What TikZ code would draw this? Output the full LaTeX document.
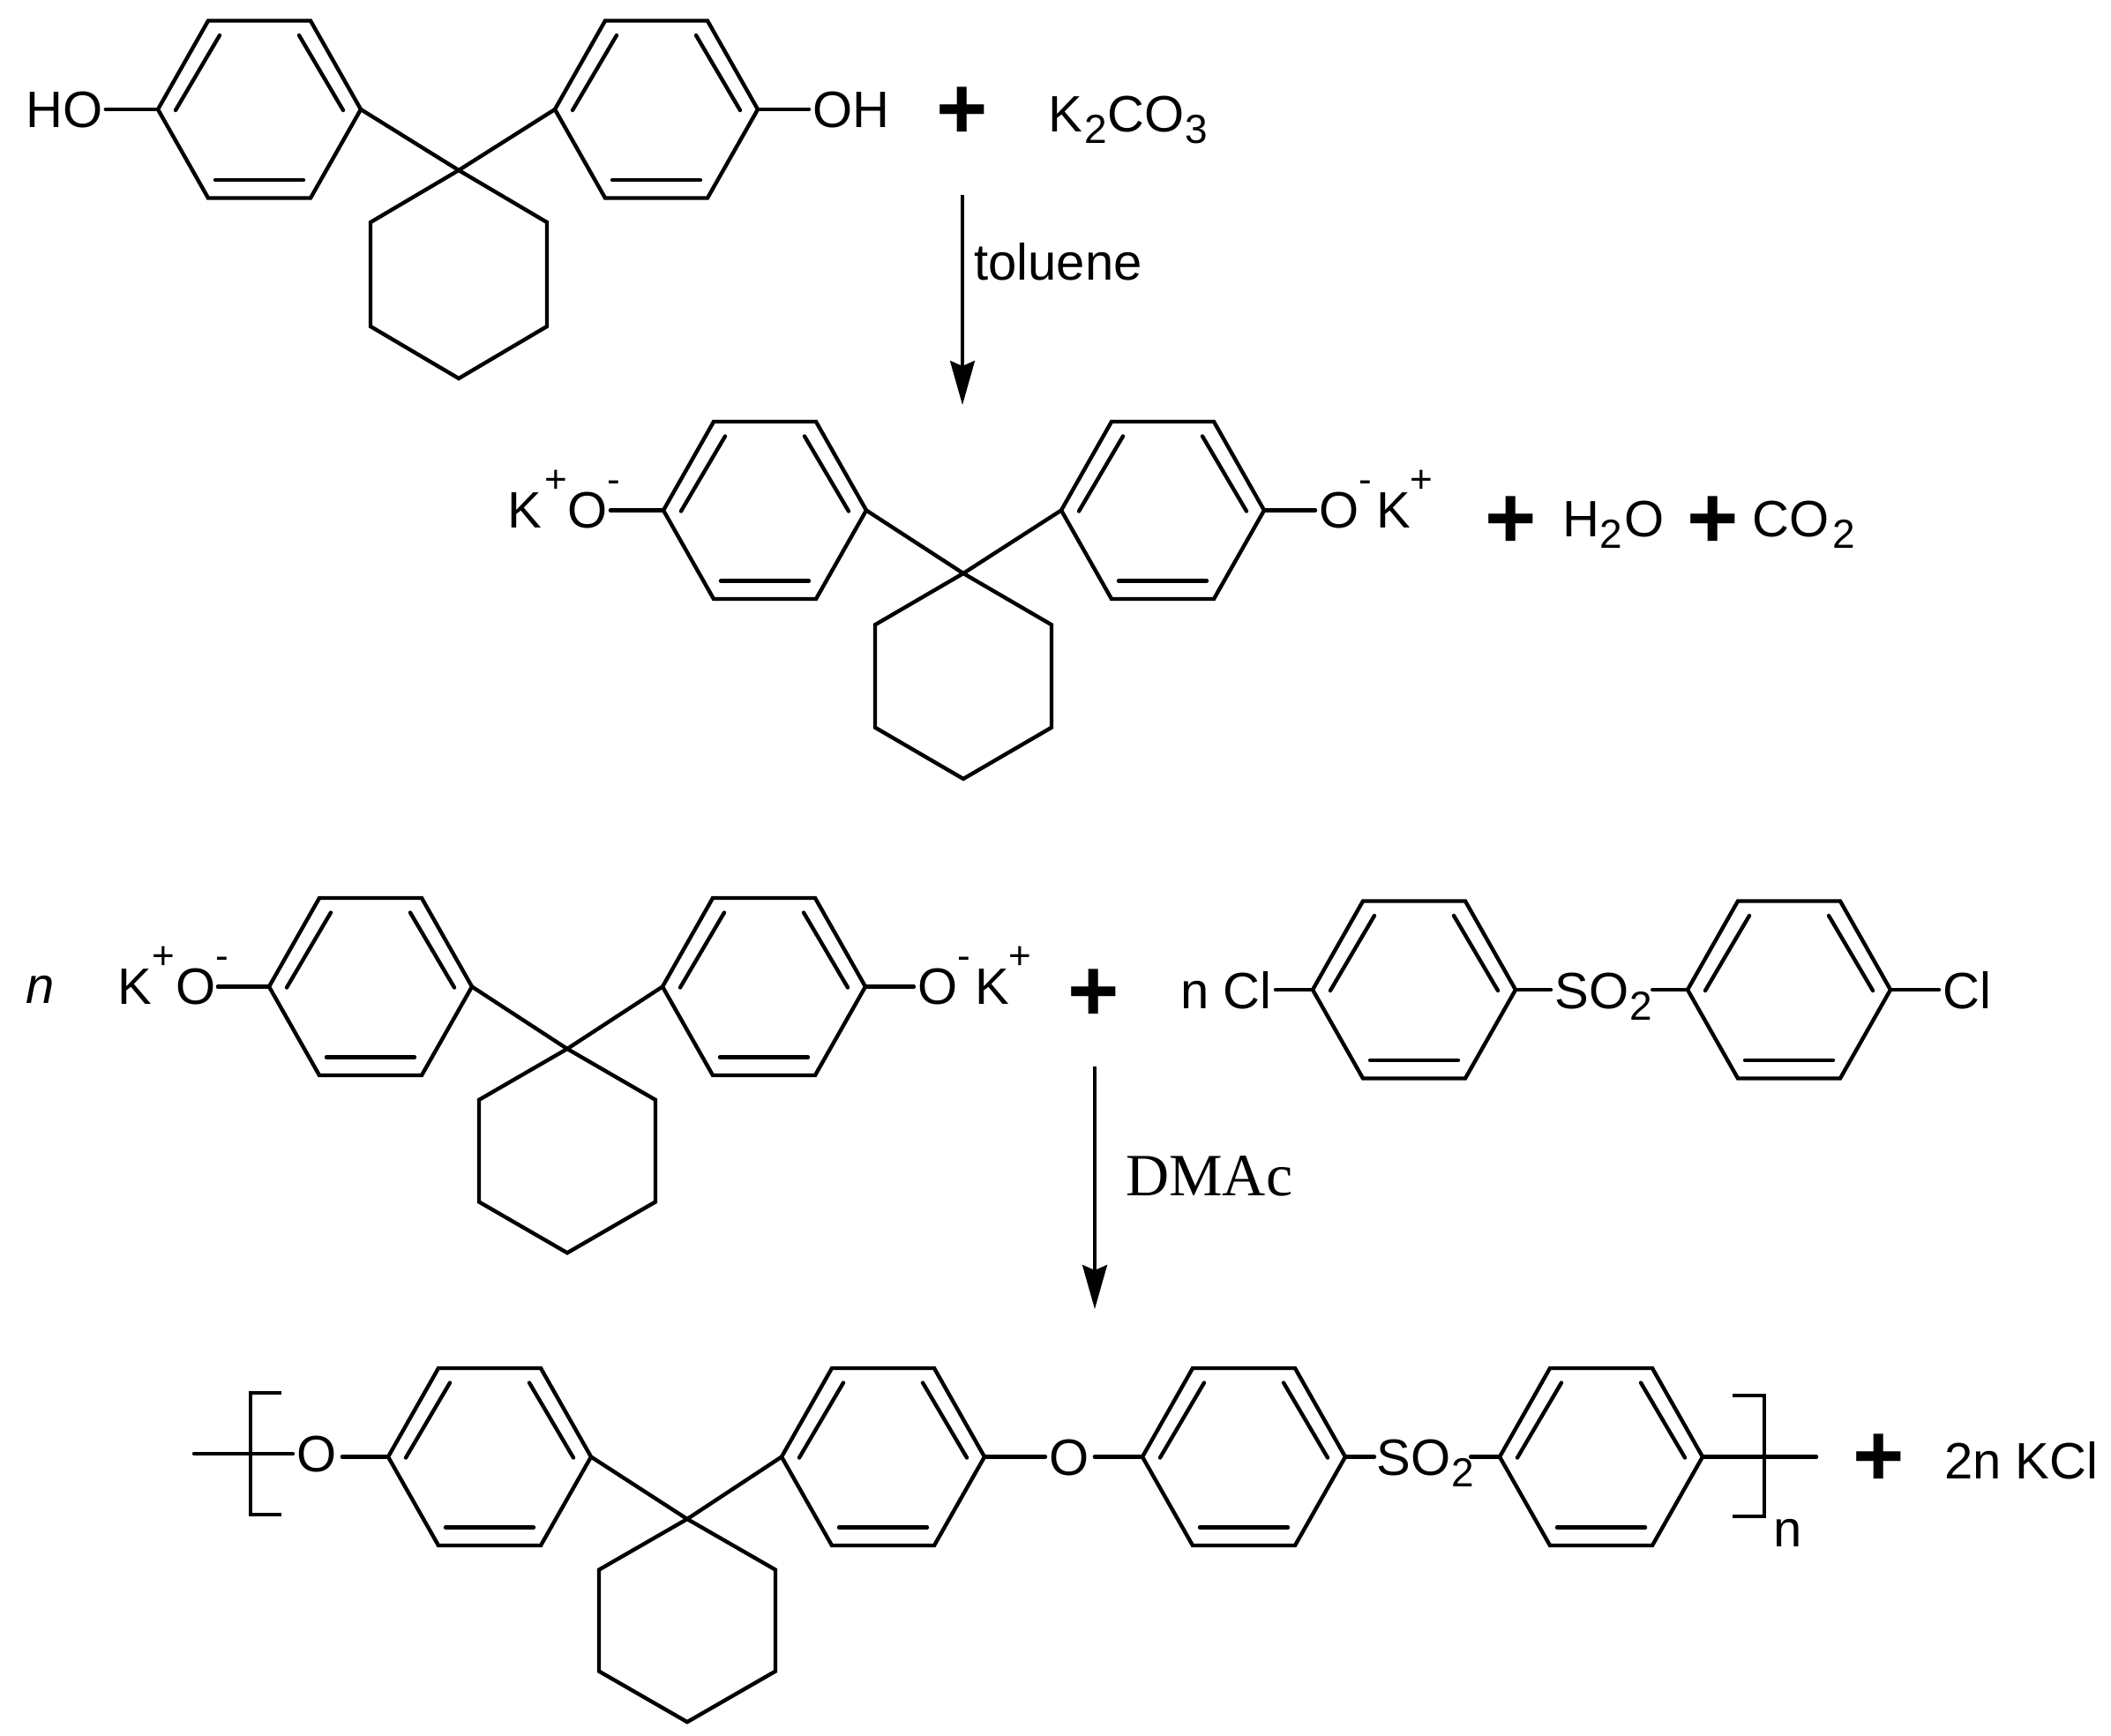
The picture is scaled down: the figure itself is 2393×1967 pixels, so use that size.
\documentclass[tikz,border=0pt]{standalone}
\usepackage{fontspec}
\setmainfont{Liberation Sans}
\newfontfamily\serifface{Liberation Serif}
\usetikzlibrary{arrows.meta}
\newcommand\subdigit[1]{\raisebox{-6.5pt}{\fontsize{23}{23}\selectfont #1}}
\newcommand\supmark[1]{\raisebox{20pt}{\fontsize{22}{22}\selectfont #1}}
\tikzset{
  bond/.style={line width=2.2pt,line join=miter,line cap=round},
  outerring/.style={line width=2.2pt,line join=miter},
  innerbond/.style={line width=2.2pt,line cap=round},
  thinline/.style={line width=1.7pt,line join=miter},
  reaction/.style={line width=1.6pt,-{Stealth[length=25pt,width=14pt,inset=3pt]}},
  chem/.style={inner sep=0pt,anchor=base west,font=\fontsize{29}{31}\selectfont},
  plussign/.style={inner sep=0pt,anchor=center,font=\fontsize{50}{50}\selectfont\bfseries},
}
% benzene ring: #1 name, #2 centre x, #3 centre y
\newcommand\benzene[3]{%
  \begin{scope}[shift={(#2,#3)}]
    \coordinate (#1-l) at (-115,0);
    \coordinate (#1-tl) at (-58,-100.5);
    \coordinate (#1-tr) at (58,-100.5);
    \coordinate (#1-r) at (115,0);
    \coordinate (#1-br) at (58,100.5);
    \coordinate (#1-bl) at (-58,100.5);
    \draw[outerring] (#1-l)--(#1-tl)--(#1-tr)--(#1-r)--(#1-br)--(#1-bl)--cycle;
    \draw[innerbond] (-45,-84)--(-95,1);
    \draw[innerbond] (45,-84)--(95,1);
    \draw[innerbond] (-50,80)--(50,80);
  \end{scope}}
% cyclohexane hung from quaternary carbon: #1 name, #2 x, #3 y, #4 vertical scale
\newcommand\cyclohexane[4]{%
  \begin{scope}[shift={(#2,#3)},yscale=#4]
    \coordinate (#1) at (0,0);
    \coordinate (#1-a) at (100,59);
    \coordinate (#1-b) at (100,177);
    \coordinate (#1-c) at (0,236);
    \coordinate (#1-d) at (-100,177);
    \coordinate (#1-e) at (-100,59);
    \draw[outerring] (#1)--(#1-a)--(#1-b)--(#1-c)--(#1-d)--(#1-e)--cycle;
  \end{scope}}
\begin{document}
\begin{tikzpicture}[x=0.5pt,y=-0.5pt]
\useasboundingbox (0,0) rectangle (2393,1967);

% ---------- row 1 ----------
\benzene{ra}{294}{124}
\benzene{rb}{744}{124}
\cyclohexane{ca}{520}{193}{1}
\draw[bond] (ca)--(ra-r);
\draw[bond] (ca)--(rb-l);
\node[chem] (ho) at (29,144) {HO};
\node[chem] (oh) at (921,144) {OH};
\draw[bond,shorten >=1.5pt] (ra-l)--(ra-l -| ho.east);
\draw[bond,shorten >=2pt] (rb-r)--(rb-r -| oh.west);
\node[plussign] (pa) at (1091,128) {+};
\node[chem] (kco) at (1188,149) {K\hspace{1pt}\subdigit{2}\hspace{0.5pt}CO\hspace{0.5pt}\subdigit{3}};
\coordinate (arA) at (1091,221);
\coordinate (arB) at (1091,459);
\draw[reaction] (arA)--(arB);
\node[chem] (tol) at (1104,317) {toluene};

% ---------- row 2 ----------
\benzene{rc}{867}{578.5}
\benzene{rd}{1318}{578.5}
\cyclohexane{cb}{1092}{650}{0.987}
\draw[bond] (cb)--(rc-r);
\draw[bond] (cb)--(rd-l);
\node[chem] (koa) at (575,598) {K\hspace{1.5pt}\supmark{+}\hspace{0.5pt}O\supmark{-}};
\node[chem] (oka) at (1495,598) {O\supmark{-}\hspace{2.5pt}K\supmark{+}};
\draw[bond,shorten >=-6pt] (rc-l)--(rc-l -| koa.east);
\draw[bond,shorten >=2pt] (rd-r)--(rd-r -| oka.west);
\node[plussign] (pb) at (1713,592) {+};
\node[chem] (water) at (1771,608) {H\subdigit{2}\hspace{1.5pt}O};
\node[plussign] (pc) at (1942,592) {+};
\node[chem] (co) at (1986,608) {CO\hspace{2pt}\subdigit{2}};

% ---------- row 3 ----------
\node[chem,font=\fontsize{29}{31}\selectfont\itshape] (nn) at (29,1137) {n};
\benzene{re}{420}{1118.5}
\benzene{rf}{866}{1118.5}
\cyclohexane{cc}{643}{1189}{0.98}
\draw[bond] (cc)--(re-r);
\draw[bond] (cc)--(rf-l);
\node[chem] (kob) at (133,1138) {K\supmark{+}\hspace{1pt}O\supmark{-}};
\node[chem] (okb) at (1040,1138) {O\supmark{-}\hspace{2.5pt}K\supmark{+}};
\draw[bond,shorten >=-6.5pt] (re-l)--(re-l -| kob.east);
\draw[bond,shorten >=2pt] (rf-r)--(rf-r -| okb.west);
\node[plussign] (pd) at (1240,1128) {+};
\node[chem] (ncl) at (1338,1143) {n Cl};
\benzene{rg}{1603}{1122}
\benzene{rh}{2028}{1122}
\node[chem] (soa) at (1762,1143) {SO\hspace{0.5pt}\subdigit{2}};
\node[chem] (clb) at (2202,1143) {Cl};
\draw[bond,shorten >=2pt] (rg-l)--(rg-l -| ncl.east);
\draw[bond,shorten >=2pt] (rg-r)--(rg-r -| soa.west);
\draw[bond] (rh-l)--(rh-l -| soa.east);
\draw[bond,shorten >=2pt] (rh-r)--(rh-r -| clb.west);
\coordinate (arC) at (1241,1209);
\coordinate (arD) at (1241,1484);
\draw[reaction] (arC)--(arD);
\node[chem,font=\fontsize{34}{36}\serifface] (dmac) at (1276,1355) {DMAc};

% ---------- row 4 ----------
\benzene{ri}{555}{1651.5}
\benzene{rj}{1001}{1651.5}
\cyclohexane{cd}{779}{1722}{0.975}
\draw[bond] (cd)--(ri-r);
\draw[bond] (cd)--(rj-l);
\benzene{rk}{1410}{1651.5}
\benzene{rl}{1815}{1651.5}
\node[chem] (oa) at (336,1668) {O};
\node[chem] (ob) at (1189,1672) {O};
\node[chem] (sob) at (1560,1672) {SO\hspace{0.5pt}\subdigit{2}};
\coordinate (endL) at (220,1648);
\coordinate (endR) at (2059,1651.5);
\draw[bond,shorten >=2pt] (endL)--(endL -| oa.west);
\draw[bond,shorten >=3pt] (ri-l)--(ri-l -| oa.east);
\draw[bond,shorten >=2pt] (rj-r)--(rj-r -| ob.west);
\draw[bond,shorten >=3pt] (rk-l)--(rk-l -| ob.east);
\draw[bond,shorten >=1pt] (rk-r)--(rk-r -| sob.west);
\draw[bond,shorten >=-2pt] (rl-l)--(rl-l -| sob.east);
\draw[bond] (rl-r)--(endR);
\coordinate (bla) at (319,1579);
\coordinate (blb) at (284,1579);
\coordinate (blc) at (284,1717);
\coordinate (bld) at (319,1717);
\draw[thinline] (bla)--(blb)--(blc)--(bld);
\coordinate (bra) at (1964,1582);
\coordinate (brb) at (2000,1582);
\coordinate (brc) at (2000,1719);
\coordinate (brd) at (1964,1719);
\draw[thinline] (bra)--(brb)--(brc)--(brd);
\node[chem] (nsub) at (2010,1753) {n};
\node[plussign] (pe) at (2130,1655) {+};
\node[chem] (kcl) at (2204,1676) {2n KCl};
\end{tikzpicture}
\end{document}
